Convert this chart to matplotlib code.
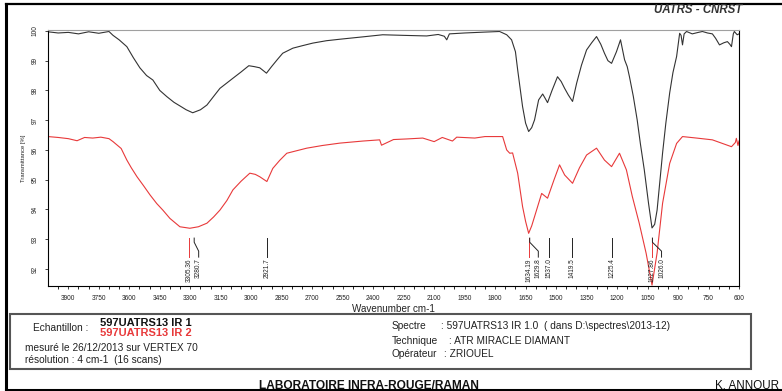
import matplotlib.pyplot as plt
from matplotlib.patches import Rectangle
from matplotlib.lines import Line2D

plt.rcParams['font.family'] = ['Liberation Sans', 'DejaVu Sans']

# spectre 1 (noir) : nombre d'onde / transmittance
wn_ir1 = [4000, 3950, 3900, 3850, 3800, 3750, 3700, 3680, 3650, 3612, 3580, 3548, 3515,
          3484, 3450, 3415, 3380, 3351, 3320, 3288, 3250, 3218, 3185, 3154, 3120, 3090,
          3050, 3012, 2985, 2958, 2925, 2900, 2870, 2845, 2795, 2750, 2697, 2630, 2564,
          2450, 2353, 2250, 2137, 2080, 2050, 2038, 2025, 1950, 1850, 1778, 1743, 1719,
          1700, 1689, 1665, 1650, 1635, 1620, 1606, 1586, 1566, 1555, 1542, 1520, 1493,
          1475, 1458, 1440, 1419, 1399, 1375, 1350, 1325, 1301, 1280, 1262, 1245, 1227,
          1203, 1183, 1163, 1150, 1139, 1120, 1101, 1085, 1066, 1045, 1028, 1015, 1003,
          990, 976, 960, 941, 925, 907, 892, 885, 878, 870, 858, 830, 800, 780, 755, 731,
          715, 696, 675, 657, 645, 637, 628, 623, 609, 600]
t_ir1 = [99.97, 99.93, 99.95, 99.90, 99.97, 99.92, 99.98, 99.85, 99.70, 99.47, 99.10, 98.76, 98.50,
         98.35, 98.00, 97.79, 97.60, 97.48, 97.35, 97.25, 97.35, 97.51, 97.80, 98.07, 98.25, 98.41,
         98.62, 98.83, 98.80, 98.76, 98.58, 98.80, 99.05, 99.25, 99.42, 99.50, 99.59, 99.67, 99.72,
         99.80, 99.87, 99.85, 99.83, 99.88, 99.82, 99.70, 99.90, 99.93, 99.96, 99.98, 99.87, 99.70,
         99.30, 98.69, 97.46, 96.90, 96.62, 96.75, 97.01, 97.68, 97.88, 97.75, 97.59, 98.00, 98.46,
         98.30, 98.07, 97.85, 97.63, 98.24, 98.85, 99.36, 99.60, 99.81, 99.55, 99.25, 99.00, 98.91,
         99.30, 99.70, 99.03, 98.80, 98.46, 97.80, 97.01, 96.20, 95.33, 94.20, 93.38, 93.50, 93.98,
         94.90, 95.90, 96.90, 97.92, 98.60, 99.14, 99.92, 99.85, 99.53, 99.90, 99.98, 99.90, 99.95, 99.98, 99.93, 99.90,
         99.75, 99.53, 99.60, 99.64, 99.55, 99.47, 99.90, 99.98, 99.87, 99.90]

# spectre 2 (rouge)
wn_ir2 = [4000, 3950, 3900, 3857, 3820, 3780, 3740, 3700, 3680, 3640, 3612, 3590, 3562,
          3530, 3498, 3465, 3435, 3400, 3351, 3302, 3260, 3218, 3185, 3154, 3120, 3090,
          3050, 3007, 2980, 2958, 2923, 2894, 2860, 2825, 2727, 2650, 2564, 2450, 2368,
          2359, 2300, 2235, 2156, 2100, 2060, 2010, 1989, 1900, 1850, 1778, 1763, 1743,
          1728, 1714, 1689, 1665, 1650, 1635, 1620, 1606, 1571, 1542, 1510, 1483, 1458,
          1419, 1385, 1350, 1301, 1262, 1227, 1188, 1154, 1125, 1091, 1057, 1028, 1003,
          976, 941, 907, 878, 809, 731, 682, 637, 618, 613, 605, 600]
t_ir2 = [96.45, 96.42, 96.38, 96.31, 96.42, 96.40, 96.43, 96.38, 96.28, 96.05, 95.66, 95.40, 95.10,
         94.80, 94.49, 94.20, 93.98, 93.70, 93.42, 93.37, 93.42, 93.54, 93.75, 93.98, 94.30, 94.66,
         94.95, 95.22, 95.18, 95.10, 94.94, 95.38, 95.65, 95.89, 96.06, 96.15, 96.23, 96.30, 96.34,
         96.16, 96.35, 96.37, 96.40, 96.28, 96.42, 96.30, 96.43, 96.40, 96.45, 96.45, 96.45, 96.00,
         95.89, 95.90, 95.22, 94.10, 93.60, 93.20, 93.45, 93.76, 94.54, 94.38, 95.00, 95.50, 95.16,
         94.88, 95.40, 95.83, 96.06, 95.66, 95.44, 95.89, 95.33, 94.44, 93.54, 92.53, 91.46, 92.54,
         94.21, 95.55, 96.22, 96.45, 96.40, 96.34, 96.22, 96.11, 96.25, 96.39, 96.15, 96.30]

# pics annotés
pics_ir1 = [3280.7, 2921.7, 1629.8, 1537.0, 1419.5, 1225.4, 1026.0]
pics_ir2 = [3305.36, 1634.19, 1027.86]

col_ir1 = '#333333'
col_ir2 = '#e8393a'

W, H = 782, 391
fig = plt.figure(figsize=(W / 100, H / 100), dpi=100)


def fx(px):
    return px / W


def fy(py):
    return 1 - py / H


ax = fig.add_axes([fx(48), fy(286), (739 - 48) / W, (286 - 30) / H])
ax.plot(wn_ir1, t_ir1, color=col_ir1, lw=0.8)
ax.plot(wn_ir2, t_ir2, color=col_ir2, lw=0.8)

ax.set_xlim(4000, 600)
ax.set_ylim(91.43, 100.03)
ax.set_xticks(range(600, 4000, 150))
ax.set_xticks(range(600, 4000, 50), minor=True)
ax.set_yticks(range(92, 101))
ax.tick_params(axis='both', which='major', direction='out', length=2.5, width=0.6,
               labelsize=4.7, pad=4, colors='#222222')
ax.tick_params(axis='x', which='minor', direction='out', length=1.8, width=0.6)
for lab in ax.get_yticklabels():
    lab.set_rotation(90)
    lab.set_va('center')
ax.set_xlabel('Wavenumber cm-1', fontsize=7.1, labelpad=1.5, color='#222222')
ax.set_ylabel('Transmittance [%]', fontsize=4.2, labelpad=4, color='#222222')
ax.spines['top'].set_color('#a0a0a0')
for s in ['left', 'bottom', 'right']:
    ax.spines[s].set_color('black')
    ax.spines[s].set_linewidth(0.8)

# marqueurs de pics avec lignes de rappel
px_per_wn = (739 - 48) / 3400
gap = 9.5 / px_per_wn
pics = sorted([(w, col_ir1) for w in pics_ir1] + [(w, col_ir2) for w in pics_ir2],
              key=lambda p: -p[0])
prev = None
y_top, y_k1, y_k2, y_bot = 93.04, 92.90, 92.60, 92.40
for w, c in pics:
    lab_w = w if prev is None else min(w, prev - gap)
    prev = lab_w
    lc = c if c == col_ir2 else '#222222'
    ax.plot([w, w, lab_w, lab_w], [y_top, y_k1, y_k2, y_bot], color=lc, lw=0.7)
    txt = f'{w:.2f}' if c == col_ir2 else f'{w:.1f}'
    ax.text(lab_w, y_bot - 0.04, txt, rotation=90, ha='center', va='top',
            fontsize=4.7, color='#222222')

# cadre de la page
fig.add_artist(Line2D([fx(6), fx(6)], [fy(4), fy(391)], color='black', lw=2.2))
fig.add_artist(Line2D([fx(6), 1], [fy(4), fy(4)], color='black', lw=1.6))
fig.add_artist(Line2D([fx(6), 1], [fy(390), fy(390)], color='black', lw=2.2))
fig.text(fx(742), fy(10), 'UATRS - CNRST', ha='right', va='center', fontsize=8.3,
         fontweight='bold', style='italic', color='#333333')

# cartouche
fig.add_artist(Rectangle((fx(10), fy(369)), (751 - 10) / W, (369 - 314) / H,
                         transform=fig.transFigure, fill=False, ec='#555555', lw=1.5))
fs = 7.3
fsb = 8.0
fig.text(fx(33), fy(328), 'Echantillon :', fontsize=fs, va='center', color='#222222')
fig.text(fx(100), fy(323.5), '597UATRS13 IR 1', fontsize=fsb, va='center',
         fontweight='bold', color='#111111')
fig.text(fx(100), fy(333), '597UATRS13 IR 2', fontsize=fsb, va='center',
         fontweight='bold', color=col_ir2)
fig.text(fx(25), fy(348), 'mesuré le 26/12/2013 sur VERTEX 70', fontsize=fs, va='center',
         color='#222222')
fig.text(fx(25), fy(360), 'résolution : 4 cm-1  (16 scans)', fontsize=fs, va='center',
         color='#222222')
fig.text(fx(392), fy(326), 'Spectre', fontsize=fs, va='center', color='#222222')
fig.text(fx(441), fy(326), ': 597UATRS13 IR 1.0  ( dans D:\\spectres\\2013-12)', fontsize=fs,
         va='center', color='#222222')
fig.text(fx(392), fy(341), 'Technique', fontsize=fs, va='center', color='#222222')
fig.text(fx(449), fy(341), ': ATR MIRACLE DIAMANT', fontsize=fs, va='center', color='#222222')
fig.text(fx(392), fy(354), 'Opérateur', fontsize=fs, va='center', color='#222222')
fig.text(fx(444), fy(354), ': ZRIOUEL', fontsize=fs, va='center', color='#222222')

fig.text(fx(259), fy(386), 'LABORATOIRE INFRA-ROUGE/RAMAN', fontsize=8.6, va='center',
         fontweight='bold', color='#111111')
fig.text(fx(715), fy(386), 'K. ANNOUR', fontsize=8.4, va='center', color='#111111')

fig.savefig('out.png', dpi=100)
